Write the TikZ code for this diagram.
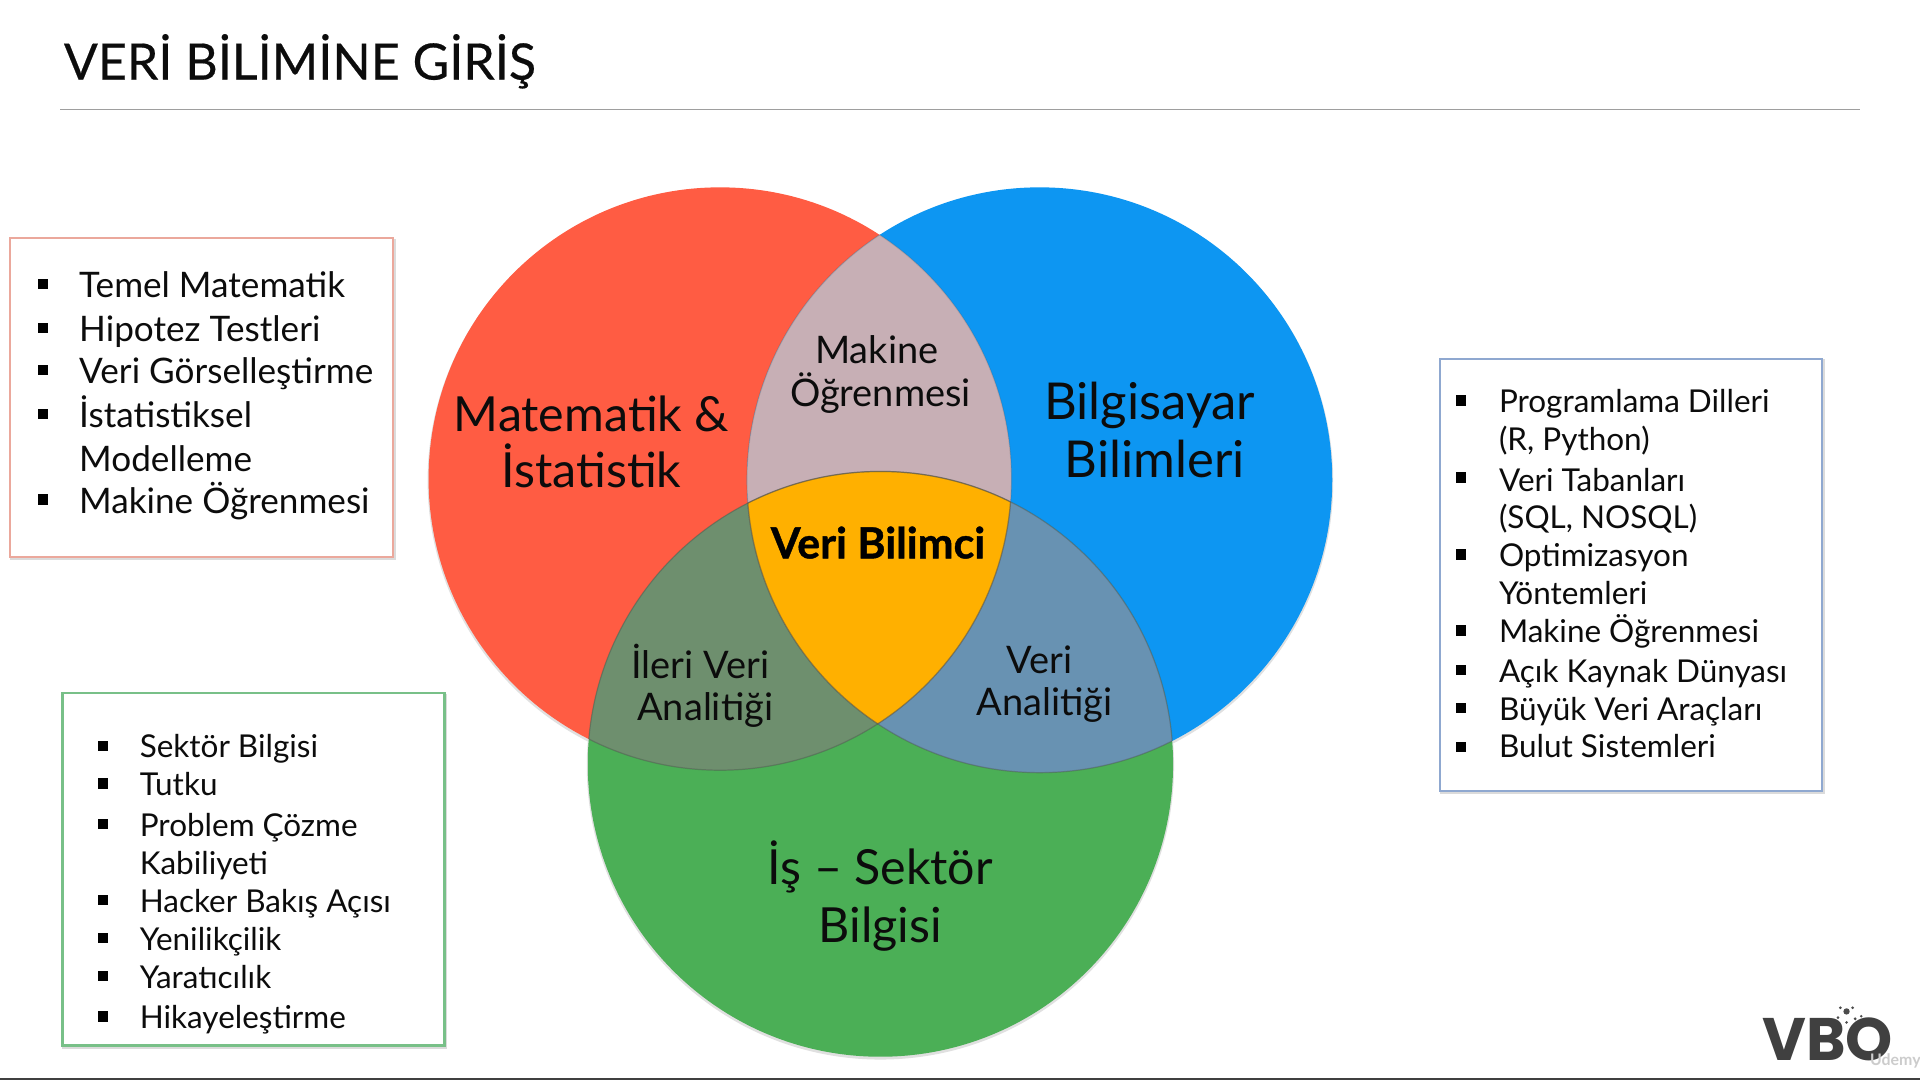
\documentclass[tikz,border=0pt]{standalone}
\usepackage{fontspec}
\setmainfont{Lato}
\newfontfamily\logofont{Poppins}
\usetikzlibrary{calc}
\definecolor{cRed}{HTML}{FF5C43}
\definecolor{cBlue}{HTML}{0D96F2}
\definecolor{cGreen}{HTML}{4BAF56}
\definecolor{cRB}{HTML}{C7AFB5}
\definecolor{cRG}{HTML}{6E8F6E}
\definecolor{cBG}{HTML}{6892B2}
\definecolor{cAll}{HTML}{FFB000}
\definecolor{cInk}{HTML}{0C0C0C}
\definecolor{pRed}{HTML}{EBA89C}
\definecolor{pGreen}{HTML}{78C088}
\definecolor{pBlue}{HTML}{8FA8D0}
\newcount\itemno
\newcommand{\litem}[4]{% bullet x, text x, baseline y, text
  \global\advance\itemno by 1
  \node[listtext] (t\the\itemno) at (#2,#3) {#4};}
\newcommand{\bitem}[2]{%
  \global\advance\itemno by 1
  \node[bulletmark] (b\the\itemno) at (#1,#2) {};}
\tikzset{
  listtext/.style={anchor=base west,inner sep=0pt,text=cInk,font=\fontsize{\listsize}{\listsize}\selectfont},
  bulletmark/.style={fill=black,minimum size=8.5pt,inner sep=0pt,rectangle},
  biglabel/.style={anchor=base,inner sep=0pt,text=cInk,font=\fontsize{39.5}{39.5}\selectfont},
  widelabel/.style={anchor=base,inner sep=0pt,text=cInk,font=\fontsize{41.5}{41.5}\selectfont},
  midlabel/.style={anchor=base,inner sep=0pt,text=cInk,font=\fontsize{31}{31}\selectfont},
  panel/.style={fill=white,line width=2pt},
  panelshadow/.style={draw=black!14,line width=2pt},
  edge/.style={draw=black!70,draw opacity=.4,line width=1pt},
}
\newcommand{\listsize}{29}
\begin{document}
\begin{tikzpicture}[x=1pt,y=-1pt]
\useasboundingbox (0,0) rectangle (1568,882);
\fill[white] (0,0) rectangle (1568,882);
% title
\node[anchor=base west,inner sep=0pt,text=cInk,font=\addfontfeatures{FakeBold=0.4}\fontsize{41}{41}\selectfont] (title) at (52,65) {VERİ BİLİMİNE GİRİŞ};
\coordinate (ruleL) at (49,89.5);
\coordinate (ruleR) at (1519,89.5);
\draw[draw=black!38,line width=1.3pt] (ruleL) -- (ruleR);
\coordinate (botL) at (0,881);
\coordinate (botR) at (1568,881);
\draw[draw=black!75,line width=1.6pt] (botL) -- (botR);
% panels
\draw[panelshadow] (9,196) rectangle (322,456.5);
\draw[panel,draw=pRed] (8,194.5) rectangle (321,455);
\draw[panelshadow] (52,567.5) rectangle (364,855.5);
\draw[panel,draw=pGreen] (51,566) rectangle (363,854);
\draw[panelshadow] (1177,294.5) rectangle (1489,647.5);
\draw[panel,draw=pBlue] (1176,293) rectangle (1488,646);
% red list
\renewcommand{\listsize}{28.7}
\litem{35}{64.5}{243}{Temel Matematik}
\litem{35}{64.5}{279}{Hipotez Testleri}
\litem{35}{64.5}{313}{Veri Görselleştirme}
\litem{35}{64.5}{349}{İstatistiksel}
\litem{35}{64.5}{385}{Modelleme}
\litem{35}{64.5}{419}{Makine Öğrenmesi}
\bitem{35}{232}\bitem{35}{268}\bitem{35}{302}\bitem{35}{338}\bitem{35}{408}
% green list
\renewcommand{\listsize}{25.7}
\litem{84}{114}{619}{Sektör Bilgisi}
\litem{84}{114}{650}{Tutku}
\litem{84}{114}{683}{Problem Çözme}
\litem{84}{114}{714}{Kabiliyeti}
\litem{84}{114}{745}{Hacker Bakış Açısı}
\litem{84}{114}{776}{Yenilikçilik}
\litem{84}{114}{807}{Yaratıcılık}
\litem{84}{114}{840}{Hikayeleştirme}
\bitem{84}{609}\bitem{84}{640}\bitem{84}{673}\bitem{84}{735}\bitem{84}{766}\bitem{84}{797}\bitem{84}{830}
% blue list
\litem{1193}{1224}{337}{Programlama Dilleri}
\litem{1193}{1224}{368}{(R, Python)}
\litem{1193}{1224}{401}{Veri Tabanları}
\litem{1193}{1224}{432}{(SQL, NOSQL)}
\litem{1193}{1224}{463}{Optimizasyon}
\litem{1193}{1224}{494}{Yöntemleri}
\litem{1193}{1224}{525}{Makine Öğrenmesi}
\litem{1193}{1224}{557}{Açık Kaynak Dünyası}
\litem{1193}{1224}{588}{Büyük Veri Araçları}
\litem{1193}{1224}{619}{Bulut Sistemleri}
\bitem{1193}{327}\bitem{1193}{390}\bitem{1193}{453}\bitem{1193}{515}\bitem{1193}{547}\bitem{1193}{578}\bitem{1193}{610}
% venn
\def\rC{(588,391) circle[radius=238]}
\def\bC{(849,392) circle[radius=239]}
\def\gC{(719,624) circle[radius=239]}
\fill[black!12] (588,392.5) circle[radius=238.8];
\fill[black!12] (849,393.5) circle[radius=239.8];
\fill[black!12] (719,625.5) circle[radius=239.8];
\fill[cRed] \rC;
\fill[cBlue] \bC;
\fill[cGreen] \gC;
\begin{scope}\clip \rC; \fill[cRB] \bC; \end{scope}
\begin{scope}\clip \rC; \fill[cRG] \gC; \end{scope}
\begin{scope}\clip \bC; \fill[cBG] \gC; \end{scope}
\begin{scope}\clip \rC; \clip \bC; \fill[cAll] \gC; \end{scope}
\begin{scope}\clip \rC; \draw[edge] \gC; \draw[edge,draw opacity=.2] \bC; \end{scope}
\begin{scope}\clip \bC; \draw[edge] \gC; \draw[edge,draw opacity=.2] \rC; \end{scope}
\begin{scope}\clip \gC; \draw[edge] \rC; \draw[edge] \bC; \end{scope}
% venn labels
\node[biglabel] (m1) at (483,352) {Matematik \&};
\node[biglabel] (m2) at (483,398) {İstatistik};
\node[widelabel] (c1) at (939,343) {Bilgisayar};
\node[widelabel] (c2) at (943,390) {Bilimleri};
\node[biglabel] (s1) at (719,722) {İş – Sektör};
\node[biglabel] (s2) at (719,770) {Bilgisi};
\node[midlabel] (ml1) at (716,297) {Makine};
\node[midlabel] (ml2) at (719,332) {Öğrenmesi};
\node[midlabel] (a1) at (572,554) {İleri Veri};
\node[midlabel] (a2) at (576,588) {Analitiği};
\node[midlabel] (v1) at (849,550) {Veri};
\node[midlabel] (v2) at (853,584) {Analitiği};
\node[anchor=base,inner sep=0pt,text=black,font=\bfseries\addfontfeatures{FakeBold=1}\fontsize{35}{35}\selectfont] (core) at (717,456) {Veri Bilimci};
% logo
\node[anchor=base west,inner sep=0pt,text=black!75,font=\logofont\bfseries\fontsize{49}{49}\selectfont] (logo) at (1439,866) {VBO};
\foreach \i/\x/\y/\r in {1/1508/826/2.6,2/1503/823/1.2,3/1513/823/1.2,4/1501/831/1.2,5/1515/832/1.3,6/1508/835/1.2,7/1520/830/1.1}
  \fill[black!70] (\x,\y) circle[radius=\r];
\node[anchor=base west,inner sep=0pt,text=black!20,font=\bfseries\fontsize{13}{13}\selectfont] (udemy) at (1527,870) {Udemy};
\end{tikzpicture}
\end{document}
